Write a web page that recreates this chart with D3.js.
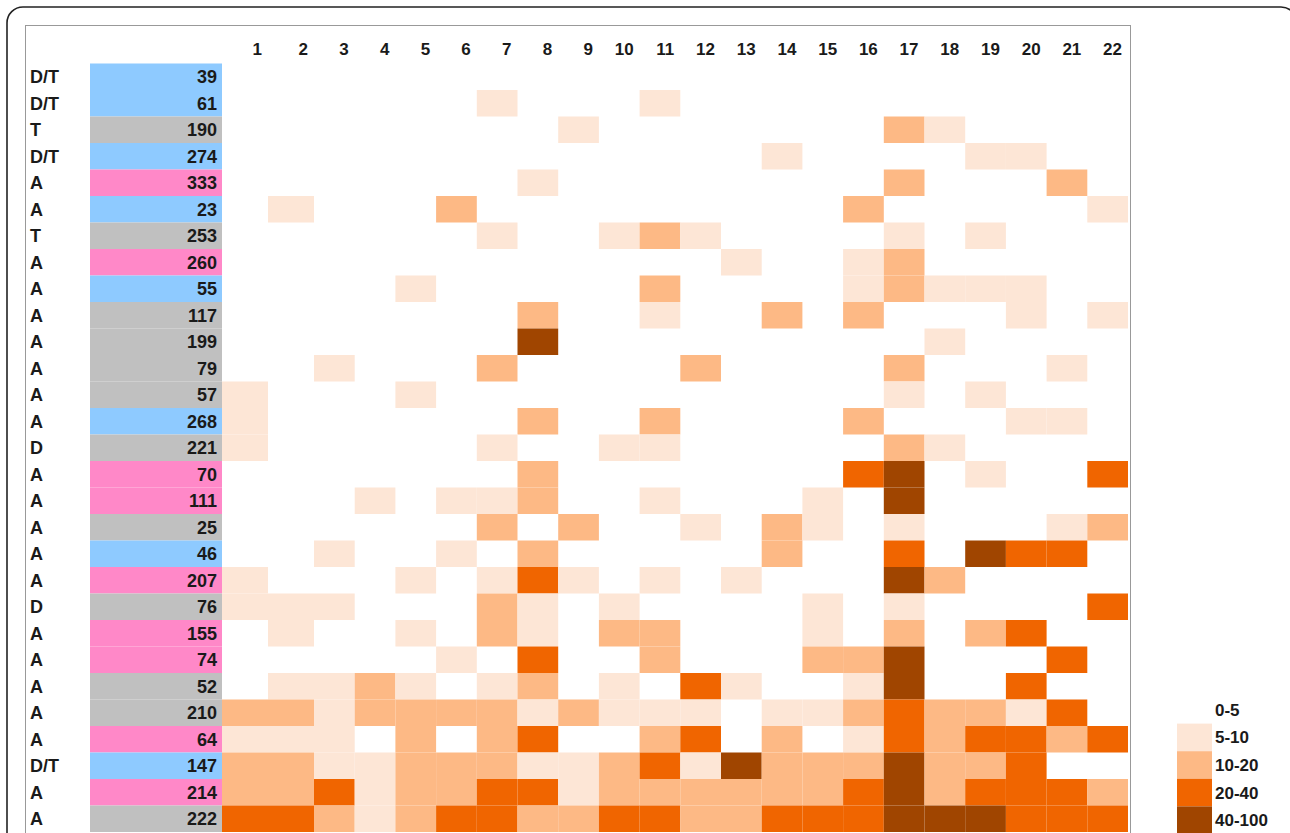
<!DOCTYPE html>
<html>
<head>
<meta charset="utf-8">
<script src="https://cdn.jsdelivr.net/npm/d3@7"></script>
<style>
  body { margin: 0; background: #fff; }
  svg { display: block; font-family: "Liberation Sans", Arial, sans-serif; }
</style>
</head>
<body>
<svg width="1290" height="833"></svg>
<script>
const width = 1290;
const height = 833;

// row labels (left column), ids in the coloured box, and box group
const rowTypes = ['D/T','D/T','T','D/T','A','A','T','A','A','A','A','A','A','A','D','A','A','A','A','A','D','A','A','A','A','A','D/T','A','A'];
const rowIds = [39,61,190,274,333,23,253,260,55,117,199,79,57,268,221,70,111,25,46,207,76,155,74,52,210,64,147,214,222];
const rowGroups = ['b','b','g','b','p','b','g','p','b','g','g','g','g','b','g','p','p','g','b','p','g','p','p','g','g','p','b','p','g'];

const columns = d3.range(1, 23);
const bins = ['0-5','5-10','10-20','20-40','40-100'];

// bin index per cell, one string per row (columns 1..22)
const levels = [
  "0000000000000000000000",
  "0000001000100000000000",
  "0000000010000000210000",
  "0000000000000100001100",
  "0000000100000000200020",
  "0100020000000002000001",
  "0000001001210000101000",
  "0000000000001001200000",
  "0000100000200001211100",
  "0000000200100202000101",
  "0000000400000000010000",
  "0010002000020000200010",
  "1000100000000000101000",
  "1000000200200002000110",
  "1000001001100000210000",
  "0000000200000003401003",
  "0001011200100010400000",
  "0000002020010210100012",
  "0010010200000200304330",
  "1000101310101000420000",
  "1110002101000010100003",
  "0100102102200010202300",
  "0000010300200022400030",
  "0112101201031001400300",
  "2212222121110112322130",
  "1110202300230201323323",
  "2211222112314222422300",
  "2231223312222223423332",
  "3321233223322333444333"
];

const binColor = d3.scaleOrdinal()
  .domain(d3.range(5))
  .range(['#ffffff', '#fde6d6', '#fdb985', '#f06500', '#a04500']);

const groupColor = d3.scaleOrdinal()
  .domain(['b','g','p'])
  .range(['#8ecaff', '#c0c0c0', '#ff88c8']);

const svg = d3.select('svg');

// frames
svg.append('rect')
  .attr('x', 7).attr('y', 7)
  .attr('width', 1290).attr('height', 860)
  .attr('rx', 16)
  .attr('fill', 'none')
  .attr('stroke', '#222')
  .attr('stroke-width', 1.6);

svg.append('rect')
  .attr('x', 25.5).attr('y', 25.5)
  .attr('width', 1105).attr('height', 840)
  .attr('fill', 'none')
  .attr('stroke', '#999')
  .attr('stroke-width', 1);

// scales -- first two columns are a bit wider than the rest
const x = d3.scaleLinear().domain([0, 2, 22]).range([222, 314, 1128]);
const y = d3.scaleBand().domain(d3.range(rowIds.length)).range([63.5, 832]);

// cells
const cells = [];
levels.forEach((row, r) => {
  row.split('').forEach((v, c) => cells.push({ r: r, c: c, v: +v }));
});

svg.append('g')
  .selectAll('rect')
  .data(cells.filter(d => d.v > 0))
  .join('rect')
  .attr('x', d => x(d.c))
  .attr('y', d => y(d.r))
  .attr('width', d => x(d.c + 1) - x(d.c))
  .attr('height', y.bandwidth())
  .attr('fill', d => binColor(d.v));

// column headers
svg.append('g')
  .selectAll('text')
  .data(columns)
  .join('text')
  .attr('x', d => x(d) - 6)
  .attr('y', 55)
  .attr('text-anchor', 'end')
  .attr('font-size', 17)
  .attr('font-weight', 'bold')
  .attr('fill', '#1a1a1a')
  .text(d => d);

// coloured id boxes
const rows = svg.append('g')
  .selectAll('g')
  .data(rowIds)
  .join('g')
  .attr('transform', (d, i) => `translate(0,${y(i)})`);

rows.append('rect')
  .attr('x', 90)
  .attr('width', 132)
  .attr('height', y.bandwidth())
  .attr('fill', (d, i) => groupColor(rowGroups[i]));

rows.append('text')
  .attr('x', 217)
  .attr('y', y.bandwidth() / 2 + 6.5)
  .attr('text-anchor', 'end')
  .attr('font-size', 18)
  .attr('font-weight', 'bold')
  .attr('fill', '#1a1a1a')
  .text(d => d);

rows.append('text')
  .attr('x', 30)
  .attr('y', y.bandwidth() / 2 + 6.5)
  .attr('font-size', 18)
  .attr('font-weight', 'bold')
  .attr('fill', '#1a1a1a')
  .text((d, i) => rowTypes[i]);

// legend
const ly = d3.scaleBand().domain(d3.range(bins.length)).range([696, 834]);

const legend = svg.append('g')
  .selectAll('g')
  .data(bins)
  .join('g')
  .attr('transform', (d, i) => `translate(1177,${ly(i)})`);

legend.append('rect')
  .attr('width', 35)
  .attr('height', ly.bandwidth())
  .attr('fill', (d, i) => binColor(i));

legend.append('text')
  .attr('x', 38)
  .attr('y', ly.bandwidth() / 2 + 6)
  .attr('font-size', 17)
  .attr('font-weight', 'bold')
  .attr('fill', '#1a1a1a')
  .text(d => d);
</script>
</body>
</html>
